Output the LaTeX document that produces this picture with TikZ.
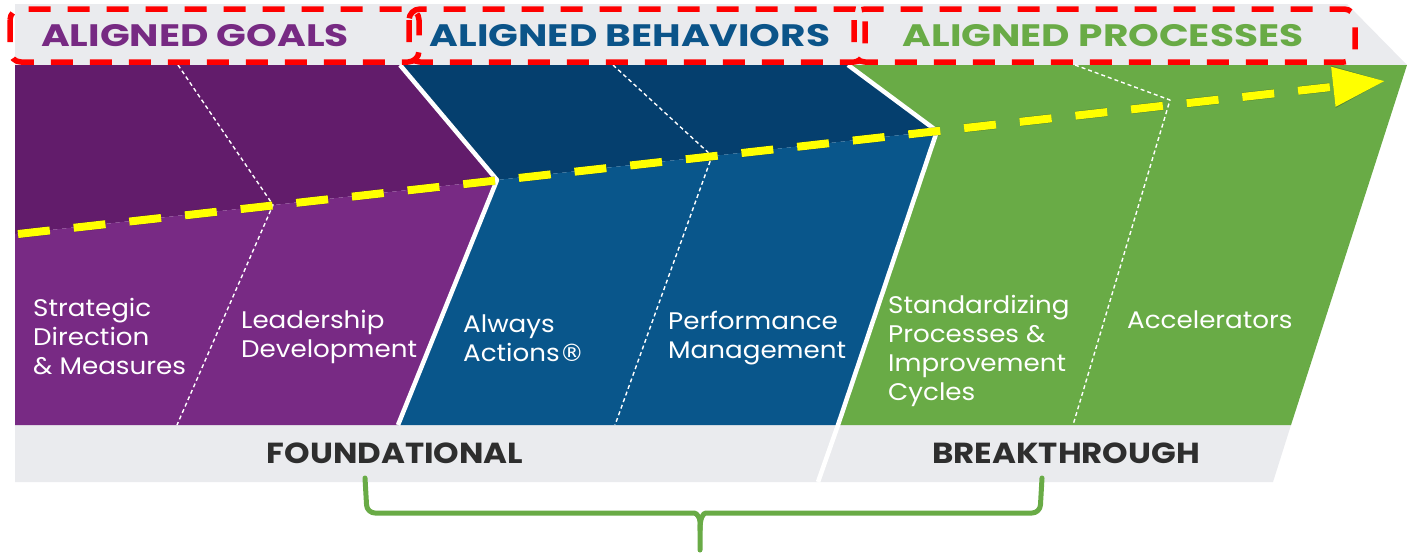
\documentclass[tikz,border=0pt]{standalone}
\usepackage{fontspec}
\setmainfont{Poppins}
\newfontfamily\headfont[FakeStretch=1.26]{Poppins}
\newfontfamily\cellfont[FakeStretch=1.09]{Poppins}
\newfontfamily\footfont[FakeStretch=1.12]{Poppins}
\newfontfamily\regfont{DejaVu Sans}
\usetikzlibrary{arrows.meta}
\definecolor{purpleD}{HTML}{621C6B}
\definecolor{purpleL}{HTML}{782A84}
\definecolor{purpleT}{HTML}{772A83}
\definecolor{blueD}{HTML}{053F6E}
\definecolor{blueL}{HTML}{09568B}
\definecolor{blueT}{HTML}{0B5489}
\definecolor{greenM}{HTML}{69AB46}
\definecolor{bandgray}{HTML}{EAEBEE}
\definecolor{labelgray}{HTML}{2E2E2E}
\definecolor{arrowyellow}{HTML}{FFFF00}
\tikzset{
  chevron/.style={draw=white,line width=4.5pt},
  divider/.style={draw=white,line width=1.4pt,dash pattern=on 4pt off 3pt},
  framebox/.style={draw=red,line width=5.5pt,dash pattern=on 22pt off 17pt,rounded corners=11pt},
  head/.style={font=\headfont\fontsize{31}{36}\selectfont\bfseries,inner sep=0pt,anchor=base},
  cell/.style={text=white,align=left,font=\cellfont\fontsize{24}{29}\selectfont,inner sep=0pt,anchor=base west},
  foot/.style={text=labelgray,font=\footfont\fontsize{29}{32}\selectfont\bfseries,inner sep=0pt,anchor=base},
}
\begin{document}
\begin{tikzpicture}[x=1pt,y=-1pt,line join=round]
\useasboundingbox (0,0) rectangle (1407,555);
% grey bands top and bottom
\fill[bandgray] (15,4) -- (1347,4) -- (1407,65) -- (15,65) -- cycle;
\fill[bandgray] (15,425) -- (1291,425) -- (1273,482) -- (15,482) -- cycle;
% chevron tips sit on the shading line
\coordinate (tipA) at (497,180);
\coordinate (tipB) at (937,131);
\fill[purpleD] (15,65) -- (400,65) -- (tipA) -- (15,234) -- cycle;
\fill[purpleL] (15,234) -- (tipA) -- (398,425) -- (15,425) -- cycle;
\fill[blueD] (400,65) -- (848,65) -- (tipB) -- (tipA) -- cycle;
\fill[blueL] (tipA) -- (tipB) -- (838,425) -- (398,425) -- cycle;
\fill[greenM] (848,65) -- (1407,65) -- (1291,425) -- (838,425) -- (tipB) -- cycle;
\draw[chevron] (400,65) -- (tipA) -- (398,425);
\draw[chevron] (848,65) -- (tipB) -- (838,425) -- (818,482);
\foreach \a/\b/\c in {{178,65}/{273,205}/{177,425},{613,65}/{712,156}/{615,425},{1075,65}/{1170,100}/{1073,425}}
  \draw[divider] (\a) -- (\b) -- (\c);
% dashed arrow with its shadow
\coordinate (arrS) at (18,234);
\coordinate (arrE) at (1385,81);
\draw[black,opacity=.22,line width=9pt,dash pattern=on 32pt off 24pt,-{Triangle[length=52pt,width=40pt]},shift={(2,4)}] (arrS) -- (arrE);
\draw[arrowyellow,line width=8pt,dash pattern=on 32pt off 24pt,-{Triangle[length=52pt,width=38pt]}] (arrS) -- (arrE);
% red frames round the headings
\draw[framebox] (10,9) rectangle (419,62);
\draw[framebox] (409,9) rectangle (865,62);
\draw[framebox] (854,9) rectangle (1355,62);
\node[head,text=purpleT] (hGoals) at (195,46) {ALIGNED GOALS};
\node[head,text=blueT] (hBehav) at (630,46) {ALIGNED BEHAVIORS};
\node[head,text=greenM] (hProc) at (1103,46) {ALIGNED PROCESSES};
% base anchor is the last line of each block
\node[cell] (tStrat) at (33,374) {Strategic\\Direction\\\& Measures};
\node[cell] (tLead) at (241,357) {Leadership\\Development};
\node[cell] (tAlways) at (463,361) {Always\\Actions{\regfont ®}};
\node[cell] (tPerf) at (668,358) {Performance\\Management};
\node[cell] (tStd) at (888,400) {Standardizing\\Processes \&\\Improvement\\Cycles};
\node[cell] (tAcc) at (1127,328) {Accelerators};
\node[foot] (fFound) at (395,463) {FOUNDATIONAL};
\node[foot] (fBreak) at (1066,463) {BREAKTHROUGH};
% brace under the bottom band
\draw[greenM,line width=5pt,line cap=round,rounded corners=8pt]
  (365,478) -- (367,513) -- (686,513) .. controls (697,513) and (700,518) .. (700,530) -- (700,550);
\draw[greenM,line width=5pt,line cap=round,rounded corners=8pt]
  (1042,478) -- (1040,513) -- (714,513) .. controls (703,513) and (700,518) .. (700,530);
\end{tikzpicture}
\end{document}
